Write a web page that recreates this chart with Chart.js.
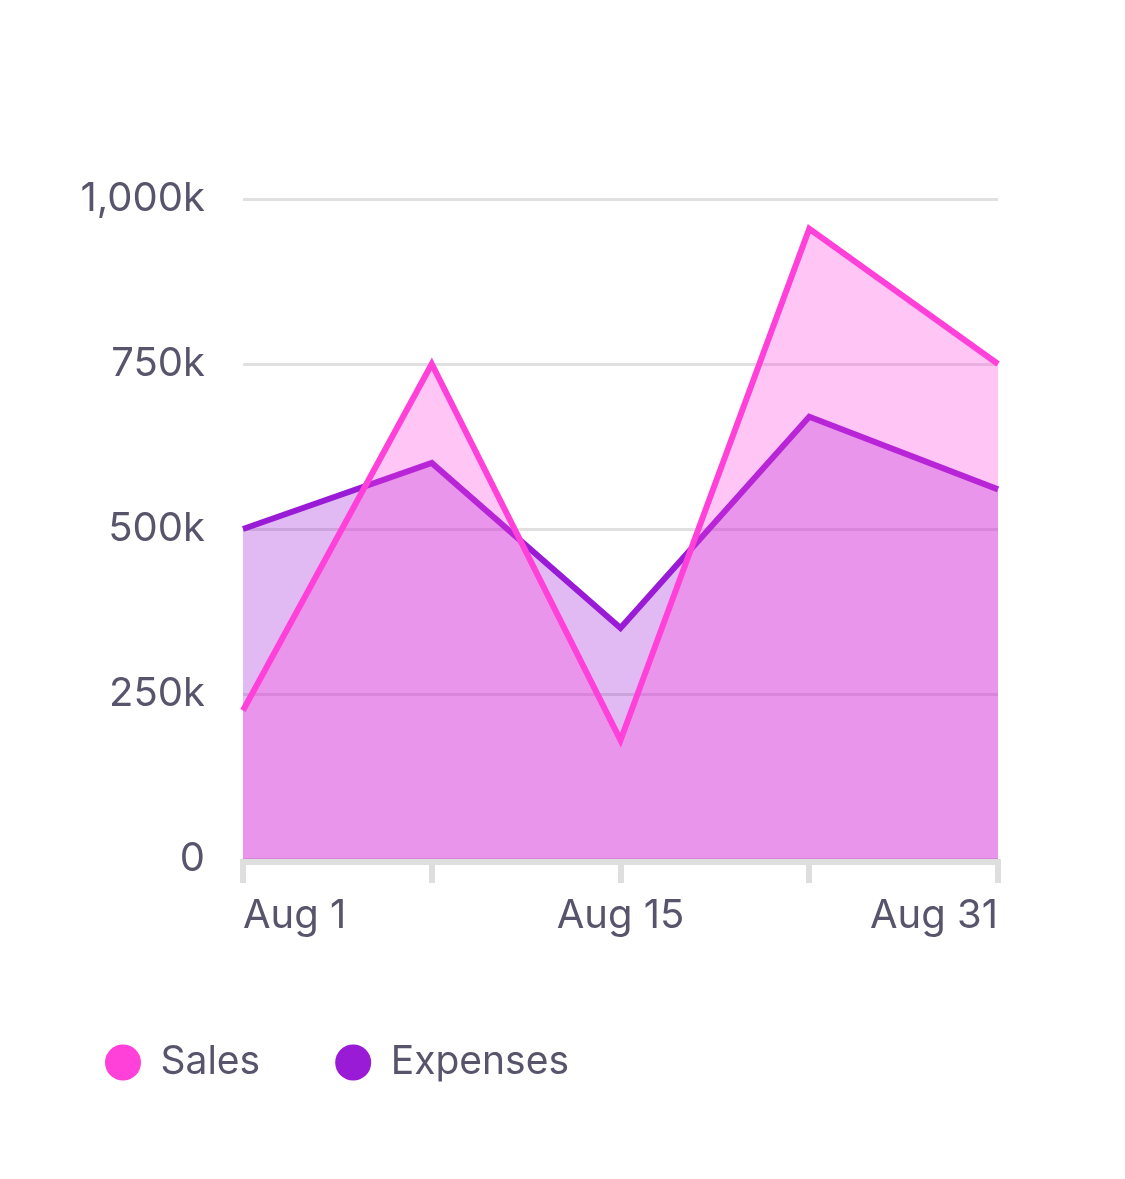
<!DOCTYPE html>
<html>
<head>
<meta charset="utf-8">
<script src="https://cdn.jsdelivr.net/npm/chart.js@4/dist/chart.umd.min.js"></script>
<style>
  html, body { margin: 0; padding: 0; background: #ffffff; }
  #wrap { width: 1125px; height: 1179px; }
</style>
</head>
<body>
<div id="wrap"><canvas id="chart"></canvas></div>
<script>
const days = ["Aug 1", "Aug 8", "Aug 15", "Aug 23", "Aug 31"];
const shown_days = ["Aug 1", "Aug 15", "Aug 31"];
const sales = [225000, 750000, 180000, 955000, 750000];
const expenses = [500000, 600000, 350000, 670000, 560000];
const y_ticks = [0, 250000, 500000, 750000, 1000000];

const text_color = "#57546c";
const axis_color = "#dedede";
const sales_color = "#ff40d9";
const expenses_color = "#9a1bd6";

Chart.defaults.font.family = "Inter, 'Noto Sans', sans-serif";
Chart.defaults.font.size = 40;
Chart.defaults.color = text_color;

function fmt_k(v) {
  if (v === 0) return "0";
  return (v / 1000).toLocaleString("en-US") + "k";
}

// gray band just under the plot, like the axis line in the picture
const axis_band = {
  id: "axis_band",
  afterDraw: function(c) {
    const a = c.chartArea;
    const ctx = c.ctx;
    ctx.save();
    ctx.fillStyle = axis_color;
    ctx.fillRect(a.left, a.bottom, a.right - a.left, 6);
    ctx.restore();
  }
};

let canvas = document.querySelector("#chart");
let chart = new Chart(canvas, {
  type: "line",
  data: {
    labels: days,
    datasets: [{
      label: "Sales",
      data: sales,
      borderColor: sales_color,
      backgroundColor: "rgba(255, 64, 217, 0.3)",
      borderWidth: 6,
      fill: "origin",
      pointRadius: 0,
      tension: 0,
    }, {
      label: "Expenses",
      data: expenses,
      borderColor: expenses_color,
      backgroundColor: "rgba(154, 27, 214, 0.3)",
      borderWidth: 6,
      fill: "origin",
      pointRadius: 0,
      tension: 0,
    }]
  },
  plugins: [axis_band],
  options: {
    responsive: true,
    maintainAspectRatio: false,
    animation: false,
    layout: {
      padding: { top: 199, right: 127, bottom: 87, left: 30 },
    },
    plugins: {
      tooltip: { enabled: false },
      legend: {
        position: "bottom",
        align: "start",
        labels: {
          usePointStyle: true,
          pointStyle: "circle",
          boxHeight: 25.46,
          pointStyleWidth: 36,
          padding: 75,
          color: text_color,
          font: { size: 39 },
          generateLabels: function(c) {
            let items = Chart.defaults.plugins.legend.labels.generateLabels(c);
            items.forEach(function(it, i) {
              const col = c.data.datasets[i].borderColor;
              it.fillStyle = col;
              it.strokeStyle = col;
              it.lineWidth = 0;
            });
            return items;
          },
        },
      },
    },
    scales: {
      x: {
        offset: false,
        border: { display: false },
        grid: {
          drawOnChartArea: false,
          drawTicks: true,
          tickLength: 24,
          color: axis_color,
          lineWidth: 6,
        },
        ticks: {
          autoSkip: false,
          maxRotation: 0,
          align: "inner",
          padding: 9,
          color: text_color,
          callback: function(v, i) {
            const l = days[i];
            return shown_days.includes(l) ? l : "";
          },
        },
        afterFit: function(scale) { scale.height = 109; },
      },
      y: {
        min: 0,
        max: 1000000,
        border: { display: false },
        grid: { color: "#e0e0e0", lineWidth: 3, drawTicks: false },
        afterBuildTicks: function(scale) {
          scale.ticks = y_ticks.map(function(v) { return { value: v }; });
        },
        ticks: {
          padding: 38,
          color: text_color,
          callback: function(v) { return fmt_k(v); },
        },
        afterFit: function(scale) { scale.width = 213; },
      },
    },
  },
});
</script>
</body>
</html>
